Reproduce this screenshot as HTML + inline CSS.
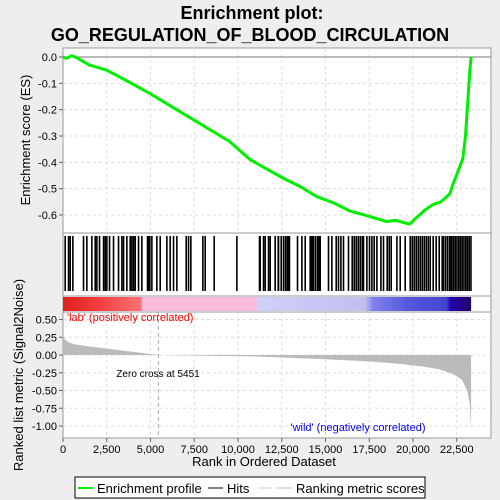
<!DOCTYPE html>
<html><head><meta charset="utf-8"><style>
body{margin:0;background:#eeeeee;font-family:"Liberation Sans",sans-serif;}
svg{display:block}
</style></head><body>
<svg id="c" width="500" height="500" font-family="Liberation Sans, sans-serif">
<rect width="500" height="500" fill="#eeeeee"/>
<text x="252" y="19" font-size="18" font-weight="bold" text-anchor="middle">Enrichment plot:</text>
<text x="250" y="41" font-size="18" font-weight="bold" text-anchor="middle">GO_REGULATION_OF_BLOOD_CIRCULATION</text>
<rect x="63" y="48" width="428" height="390" fill="#fff" stroke="#999"/>
<g id="grid"></g>
<line x1="63" y1="233" x2="491" y2="233" stroke="#999"/>
<line x1="63" y1="296" x2="491" y2="296" stroke="#999"/>
<line x1="63" y1="312" x2="491" y2="312" stroke="#999"/>
<g id="hits"></g>
<g id="cbar"></g>
<g id="metric"></g>
<g id="es"></g>
<g id="axes"></g>
<text x="67" y="321" font-size="11" fill="#ff0000">'lab' (positively correlated)</text>
<text x="358" y="431" font-size="11" fill="#0000ee" text-anchor="middle">'wild' (negatively correlated)</text>
<text x="158" y="377" font-size="10" text-anchor="middle">Zero cross at 5451</text>
<text x="264" y="466" font-size="13" text-anchor="middle">Rank in Ordered Dataset</text>
<text transform="translate(30,140) rotate(-90)" font-size="13" text-anchor="middle">Enrichment score (ES)</text>
<text transform="translate(23,375) rotate(-90)" font-size="13" text-anchor="middle">Ranked list metric (Signal2Noise)</text>
<g>
<rect x="75" y="477" width="350" height="21" fill="#fff" stroke="#000"/>
<line x1="78" y1="488" x2="93" y2="488" stroke="#00ee00" stroke-width="2"/>
<text x="97" y="493" font-size="13">Enrichment profile</text>
<line x1="208" y1="488" x2="223" y2="488" stroke="#000"/>
<text x="227" y="493" font-size="13">Hits</text>
<line x1="258" y1="488" x2="272" y2="488" stroke="#ccc"/>
<line x1="277" y1="488" x2="292" y2="488" stroke="#bbb"/>
<text x="296" y="493" font-size="13">Ranking metric scores</text>
</g>
</svg>
<script>
const xTicks=[0,2500,5000,7500,10000,12500,15000,17500,20000,22500];
const xTickLabels=["0","2,500","5,000","7,500","10,000","12,500","15,000","17,500","20,000","22,500"];
const esTicks=[0,-0.1,-0.2,-0.3,-0.4,-0.5,-0.6];
const esTickLabels=["0.0","-0.1","-0.2","-0.3","-0.4","-0.5","-0.6"];
const mTicks=[0.5,0.25,0,-0.25,-0.5,-0.75,-1];
const mTickLabels=["0.50","0.25","0.00","-0.25","-0.50","-0.75","-1.00"];
const esRanks=[0,200,500,700,1500,2500,3500,5000,6500,8000,9500,10700,11500,12570,13500,14500,15500,16400,17500,18500,19000,19800,20200,20700,21150,21600,22100,22300,22600,22850,23000,23150,23250,23320];
const esValues=[0,-0.005,0.005,0,-0.03,-0.05,-0.085,-0.14,-0.2,-0.26,-0.32,-0.39,-0.42,-0.46,-0.49,-0.53,-0.555,-0.585,-0.605,-0.625,-0.62,-0.635,-0.61,-0.58,-0.56,-0.55,-0.52,-0.48,-0.43,-0.385,-0.3,-0.15,-0.05,0];
const metricRanks=[0,100,300,700,1500,2500,3500,4500,5451,8000,11000,13000,15000,17500,19000,20500,21500,22300,22800,23100,23250,23320];
const metricValues=[0.28,0.22,0.18,0.15,0.12,0.09,0.06,0.03,0,-0.01,-0.02,-0.04,-0.06,-0.09,-0.12,-0.16,-0.2,-0.27,-0.35,-0.5,-0.7,-1.05];
const hitRanks=[114,305,400,552,1162,1352,1638,1829,1924,2076,2305,2400,2495,2648,2876,3162,3352,3448,3638,3829,3924,4019,4114,4305,4495,4819,4850,4900,4950,5067,5352,5543,5924,6114,6305,6495,7029,7162,7295,7981,8114,8629,9924,11217,11257,11446,11543,11733,11829,12114,12286,12305,12457,12589,12703,12800,12874,12931,13389,13640,13829,14114,14200,14286,14400,14514,14600,14686,15160,15354,15600,15731,15869,16017,16303,16514,16629,16743,16857,16971,17086,17160,17354,17503,17640,17771,17926,18154,18303,18514,18629,18743,19069,19257,19543,19829,19943,20057,20171,20286,20400,20514,20629,20743,20857,20971,21143,21314,21486,21657,21714,21829,21943,22057,22114,22200,22300,22400,22500,22600,22700,22800,22900,23000,23100,23200,23300];
const NS="http://www.w3.org/2000/svg";
const X=r=>63+r*0.0175;
const YE=v=>57-v*263.3;
const YM=v=>355-v*71;
function mk(t,a,p){const e=document.createElementNS(NS,t);for(const k in a)e.setAttribute(k,a[k]);p.appendChild(e);return e;}
const grid=document.getElementById('grid'),axes=document.getElementById('axes');
xTicks.forEach((t,i)=>{
 if(t>0){const g=mk('line',{x1:X(t),x2:X(t),y1:48,y2:233,stroke:'#ddd','stroke-dasharray':'3,3'},grid);
 
 const g2=mk('line',{x1:X(t),x2:X(t),y1:312,y2:438,stroke:'#ddd','stroke-dasharray':'3,3'},grid);
 }
 mk('line',{x1:X(t),x2:X(t),y1:438,y2:442,stroke:'#666'},axes);
 const l=mk('text',{x:X(t),y:453,'font-size':11,'text-anchor':'middle'},axes);l.textContent=xTickLabels[i];
 
});
esTicks.forEach((t,i)=>{
 if(t<0){const g=mk('line',{x1:63,x2:491,y1:YE(t),y2:YE(t),stroke:'#ddd','stroke-dasharray':'3,3'},grid);
 }
 mk('line',{x1:59,x2:63,y1:YE(t),y2:YE(t),stroke:'#666'},axes);
 const l=mk('text',{x:57,y:YE(t)+4,'font-size':11,'text-anchor':'end'},axes);l.textContent=esTickLabels[i];
 
});
mk('line',{x1:63,x2:491,y1:YE(0),y2:YE(0),stroke:'#777'},grid);
mTicks.forEach((t,i)=>{
 const g=mk('line',{x1:63,x2:491,y1:YM(t),y2:YM(t),stroke:'#ddd','stroke-dasharray':'3,3'},grid);
 
 mk('line',{x1:59,x2:63,y1:YM(t),y2:YM(t),stroke:'#666'},axes);
 const l=mk('text',{x:57,y:YM(t)+4,'font-size':11,'text-anchor':'end'},axes);l.textContent=mTickLabels[i];
 
});
const zl=mk('line',{x1:X(5451),x2:X(5451),y1:312,y2:438,stroke:'#aaa','stroke-dasharray':'4,3'},grid);

const hits=document.getElementById('hits');
hitRanks.forEach(r=>{const h=mk('rect',{x:X(r)-0.6,y:236,width:1.6,height:55,fill:'#000'},hits);
 });
const cb=document.getElementById('cbar');
const defs=mk('defs',{},cb);
const lg=mk('linearGradient',{id:'cg',x1:0,x2:1,y1:0,y2:0},defs);
[[0,'#dd2020'],[0.06,'#ee3333'],[0.19,'#ff7070'],[0.195,'#ffbbdd'],[0.47,'#ffbbdd'],[0.48,'#d0d0f8'],[0.74,'#c0c0f0'],[0.76,'#8080ee'],[0.85,'#5555dd'],[0.94,'#4444cc'],[0.95,'#2200aa'],[1,'#220066']].forEach(s=>mk('stop',{offset:s[0],'stop-color':s[1]},lg));
const cr=mk('rect',{x:63,y:297,width:X(23320)-63,height:14,fill:'url(#cg)'},cb);

let d='M'+X(metricRanks[0])+','+YM(0);
metricRanks.forEach((r,i)=>{d+=' L'+X(r)+','+YM(metricValues[i]);});
d+=' L'+X(metricRanks[metricRanks.length-1])+','+YM(0)+' Z';
const ma=mk('path',{d:d,fill:'#bbbbbb'},document.getElementById('metric'));

const pts=esRanks.map((r,i)=>X(r)+','+YE(esValues[i])).join(' ');
const el=mk('polyline',{points:pts,fill:'none',stroke:'#00ee00','stroke-width':3,'stroke-linejoin':'round'},document.getElementById('es'));

</script>
</body></html>
